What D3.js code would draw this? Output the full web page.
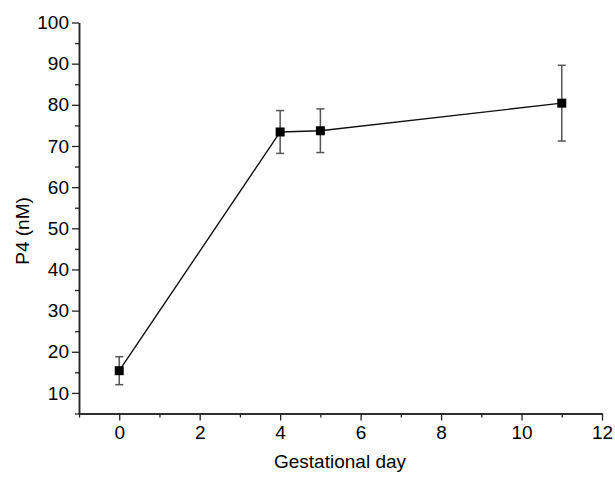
<!DOCTYPE html>
<html>
<head>
<meta charset="utf-8">
<script src="https://cdn.jsdelivr.net/npm/d3@7"></script>
<style>
  body { margin: 0; background: #fff; }
  svg { display: block; font-family: "Liberation Sans", Arial, sans-serif; }
</style>
</head>
<body>
<div id="chart"></div>
<script>
// gestational day vs P4
const days = [0, 4, 5, 11];
const p4 = [15.4, 73.4, 73.7, 80.4];
const p4Err = [3.4, 5.2, 5.3, 9.2];

const xTicks = [0, 2, 4, 6, 8, 10, 12];
const yTicks = [10, 20, 30, 40, 50, 60, 70, 80, 90, 100];

const width = 615;
const height = 480;
const margin = { top: 22.5, right: 13, bottom: 66.5, left: 79 };

const svg = d3
  .select("#chart")
  .append("svg")
  .attr("width", width)
  .attr("height", height);

const x = d3
  .scaleLinear()
  .domain([-1, 12])
  .range([margin.left, width - margin.right]);

const y = d3
  .scaleLinear()
  .domain([5, 100])
  .range([height - margin.bottom, margin.top]);

// axes: major ticks with labels, minor ticks in between
const xAxis = d3.axisBottom(x).tickValues(xTicks).tickSize(7).tickPadding(5).tickSizeOuter(0);
const xMinor = d3.axisBottom(x).tickValues(d3.range(-1, 12, 2)).tickSize(4).tickFormat("").tickSizeOuter(0);
const yAxis = d3.axisLeft(y).tickValues(yTicks).tickSize(7).tickPadding(3).tickSizeOuter(0);
const yMinor = d3.axisLeft(y).tickValues(d3.range(5, 100, 10)).tickSize(4).tickFormat("").tickSizeOuter(0);

function styleAxis(g) {
  g.select(".domain").attr("stroke", "#222").attr("stroke-width", 1.5);
  g.selectAll(".tick line").attr("stroke", "#222").attr("stroke-width", 1.3);
  g.selectAll(".tick text").attr("fill", "#000").attr("font-size", 19);
}

svg.append("g")
  .attr("transform", `translate(0,${y(5)})`)
  .call(xMinor)
  .call(styleAxis);

svg.append("g")
  .attr("transform", `translate(0,${y(5)})`)
  .call(xAxis)
  .call(styleAxis);

svg.append("g")
  .attr("transform", `translate(${x(-1)},0)`)
  .call(yMinor)
  .call(styleAxis);

svg.append("g")
  .attr("transform", `translate(${x(-1)},0)`)
  .call(yAxis)
  .call(styleAxis);

// axis titles
svg.append("text")
  .attr("x", 340)
  .attr("y", 468)
  .attr("text-anchor", "middle")
  .attr("font-size", 19)
  .attr("fill", "#000")
  .text("Gestational day");

svg.append("text")
  .attr("transform", `translate(29,231) rotate(-90)`)
  .attr("text-anchor", "middle")
  .attr("font-size", 19)
  .attr("fill", "#000")
  .text("P4 (nM)");

const points = days.map((d, i) => ({ day: d, value: p4[i], err: p4Err[i] }));

// error bars
const errG = svg.append("g")
  .attr("stroke", "#555")
  .attr("stroke-width", 1.5);

const capW = 4;
errG.selectAll(".err")
  .data(points)
  .join("g")
  .attr("class", "err")
  .each(function (d) {
    const g = d3.select(this);
    const cx = x(d.day);
    g.append("line").attr("x1", cx).attr("x2", cx)
      .attr("y1", y(d.value + d.err)).attr("y2", y(d.value - d.err));
    g.append("line").attr("x1", cx - capW).attr("x2", cx + capW)
      .attr("y1", y(d.value + d.err)).attr("y2", y(d.value + d.err));
    g.append("line").attr("x1", cx - capW).attr("x2", cx + capW)
      .attr("y1", y(d.value - d.err)).attr("y2", y(d.value - d.err));
  });

// connecting line
svg.append("path")
  .datum(points)
  .attr("fill", "none")
  .attr("stroke", "#111")
  .attr("stroke-width", 1.4)
  .attr("d", d3.line().x((d) => x(d.day)).y((d) => y(d.value)));

// square markers
const sq = 9;
svg.selectAll(".marker")
  .data(points)
  .join("rect")
  .attr("class", "marker")
  .attr("x", (d) => x(d.day) - sq / 2)
  .attr("y", (d) => y(d.value) - sq / 2)
  .attr("width", sq)
  .attr("height", sq)
  .attr("fill", "#000");
</script>
</body>
</html>
